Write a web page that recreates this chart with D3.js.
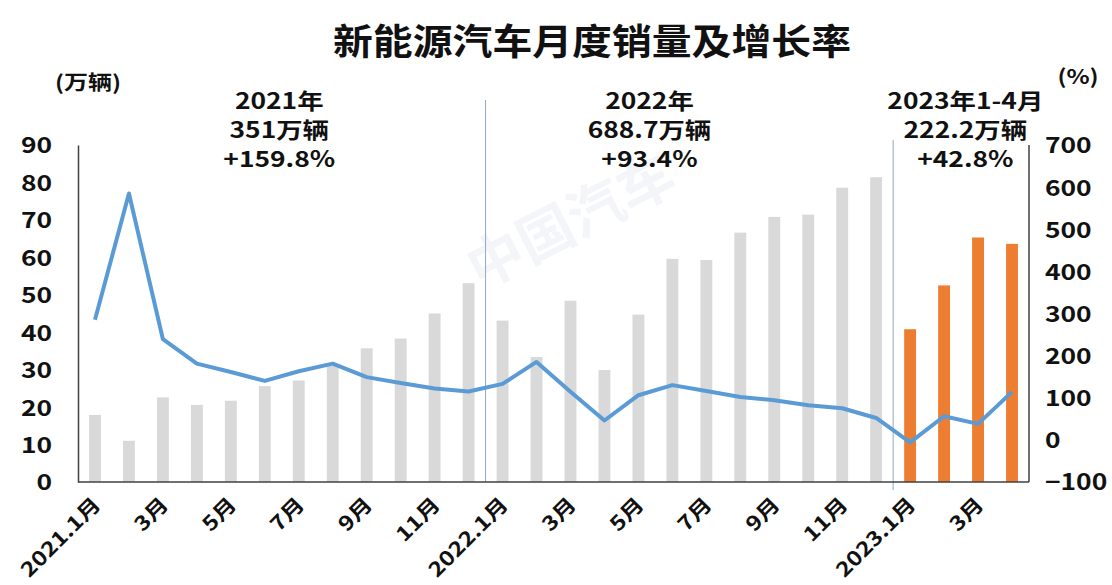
<!DOCTYPE html>
<html>
<head>
<meta charset="utf-8">
<script src="https://cdn.jsdelivr.net/npm/d3@7/dist/d3.min.js"></script>
<style>
  html, body { margin: 0; padding: 0; background: #ffffff; }
  svg { display: block; }
  text { font-family: "Noto Sans CJK SC", "Noto Sans", sans-serif; font-weight: 700; fill: #111; }
</style>
</head>
<body>
<svg id="chart" width="1112" height="585"></svg>
<script>
// ---------------- data ----------------
const months = [
  "2021.1","2021.2","2021.3","2021.4","2021.5","2021.6","2021.7","2021.8","2021.9","2021.10","2021.11","2021.12",
  "2022.1","2022.2","2022.3","2022.4","2022.5","2022.6","2022.7","2022.8","2022.9","2022.10","2022.11","2022.12",
  "2023.1","2023.2","2023.3","2023.4"
];
const sales2021 = [17.9, 11.0, 22.6, 20.6, 21.7, 25.6, 27.1, 31.0, 35.7, 38.3, 45.0, 53.1];
const sales2022 = [43.1, 33.4, 48.4, 29.9, 44.7, 59.6, 59.3, 66.6, 70.8, 71.4, 78.6, 81.4];
const sales2023 = [40.8, 52.5, 65.3, 63.6];
const growth = [
  285, 585, 239, 181, 161, 140, 163, 181, 149, 135, 122, 115,
  133, 185, 114, 46, 106, 130, 116, 102, 94, 82, 75, 52,
  -6, 56, 38, 114
];
const xTickLabels = ["2021.1月","","3月","","5月","","7月","","9月","","11月","",
                     "2022.1月","","3月","","5月","","7月","","9月","","11月","",
                     "2023.1月","","3月",""];
const leftTicks = [0,10,20,30,40,50,60,70,80,90];
const rightTicks = [-100,0,100,200,300,400,500,600,700];
const title = "新能源汽车月度销量及增长率";
const annotations = [
  { lines: ["2021年", "351万辆", "+159.8%"], at: 5.6 },
  { lines: ["2022年", "688.7万辆", "+93.4%"], at: 16.5 },
  { lines: ["2023年1-4月", "222.2万辆", "+42.8%"], at: 25.8 }
];

const sales = sales2021.concat(sales2022, sales2023);
const nNew = sales2023.length;

// ---------------- layout ----------------
const svg = d3.select("#chart");
const L = 78, R = 1029, T = 145, B = 482;
const SX = 1.2; // horizontal stretch of the original typography

const x = d3.scaleBand().domain(months).range([L, R]).paddingInner(0.65).paddingOuter(0.325);
const yL = d3.scaleLinear().domain([0, 90]).range([B, T]);
const yR = d3.scaleLinear().domain([-100, 700]).range([B, T]);
const cx = m => x(m) + x.bandwidth() / 2;

function txt(g, s, px, py, size, anchor, sx) {
  return g.append("text")
    .attr("transform", `translate(${px},${py}) scale(${sx || SX},1)`)
    .attr("text-anchor", anchor || "middle")
    .attr("font-size", size)
    .text(s);
}

// ---------------- watermark (faint) ----------------
const wm = svg.append("g").attr("opacity", 0.35);
wm.append("text").attr("transform", "translate(480,290) rotate(-27)")
  .attr("font-size", 56).style("fill", "#dfe4ec").text("中国汽车");

// ---------------- title ----------------
svg.append("text").attr("x", 592).attr("y", 55)
  .attr("text-anchor", "middle").attr("font-size", 36)
  .attr("textLength", 518).attr("lengthAdjust", "spacingAndGlyphs")
  .text(title);

// ---------------- bars ----------------
svg.append("g").selectAll("rect").data(months).join("rect")
  .attr("x", m => x(m))
  .attr("width", x.bandwidth())
  .attr("y", (m, i) => yL(sales[i]))
  .attr("height", (m, i) => yL(0) - yL(sales[i]))
  .attr("fill", (m, i) => i >= months.length - nNew ? "#ed7d31" : "#d9d9d9");

// ---------------- dividers ----------------
const step = x.step();
const divG = svg.append("g").attr("stroke", "#8fa9c9").attr("stroke-width", 1);
divG.append("line").attr("x1", cx(months[11]) + step / 2).attr("x2", cx(months[11]) + step / 2)
  .attr("y1", 100).attr("y2", B);
divG.append("line").attr("x1", cx(months[23]) + step / 2).attr("x2", cx(months[23]) + step / 2)
  .attr("y1", 140).attr("y2", B + 8);

// ---------------- line ----------------
const line = d3.line().x((d, i) => cx(months[i])).y(d => yR(d));
svg.append("path").datum(growth)
  .attr("d", line)
  .attr("fill", "none")
  .attr("stroke", "#5b9bd5")
  .attr("stroke-width", 4)
  .attr("stroke-linejoin", "round");

// ---------------- axes ----------------
const axL = svg.append("g").attr("transform", `translate(${L},0)`)
  .call(d3.axisLeft(yL).tickValues(leftTicks).tickSize(0).tickPadding(26 / SX).tickSizeOuter(0));
const axR = svg.append("g").attr("transform", `translate(${R},0)`)
  .call(d3.axisRight(yR).tickValues(rightTicks).tickSize(0).tickPadding(16 / SX).tickSizeOuter(0));
[axL, axR].forEach(a => {
  a.select(".domain").attr("stroke", "#404040").attr("stroke-width", 1.5);
  a.selectAll("text").attr("font-size", 22).attr("font-family", null).attr("transform", `scale(${SX},1)`)
    .style("fill", "#111").attr("dy", "0.36em");
});
axR.select(".domain").remove();
svg.append("line").attr("x1", R).attr("x2", R).attr("y1", T).attr("y2", B)
  .attr("stroke", "#404040").attr("stroke-width", 1.5);
svg.append("line").attr("x1", L).attr("x2", R).attr("y1", B).attr("y2", B)
  .attr("stroke", "#404040").attr("stroke-width", 1.5);

// x labels
const xl = svg.append("g");
months.forEach((m, i) => {
  if (!xTickLabels[i]) return;
  xl.append("text")
    .attr("transform", `translate(${cx(m) - 3},${B + 14}) rotate(-45) scale(${SX},1)`)
    .attr("text-anchor", "end")
    .attr("dy", "0.7em")
    .attr("font-size", 20)
    .text(xTickLabels[i]);
});

// unit labels
txt(svg, "(万辆)", 88, 90, 20, "middle");
txt(svg, "(%)", 1078, 84, 20, "middle");

// annotations
annotations.forEach(a => {
  const px = L + x.paddingOuter() * step + a.at * step;
  a.lines.forEach((s, k) => {
    txt(svg, s, px, 109 + k * 29, 22, "middle");
  });
});
</script>
</body>
</html>
